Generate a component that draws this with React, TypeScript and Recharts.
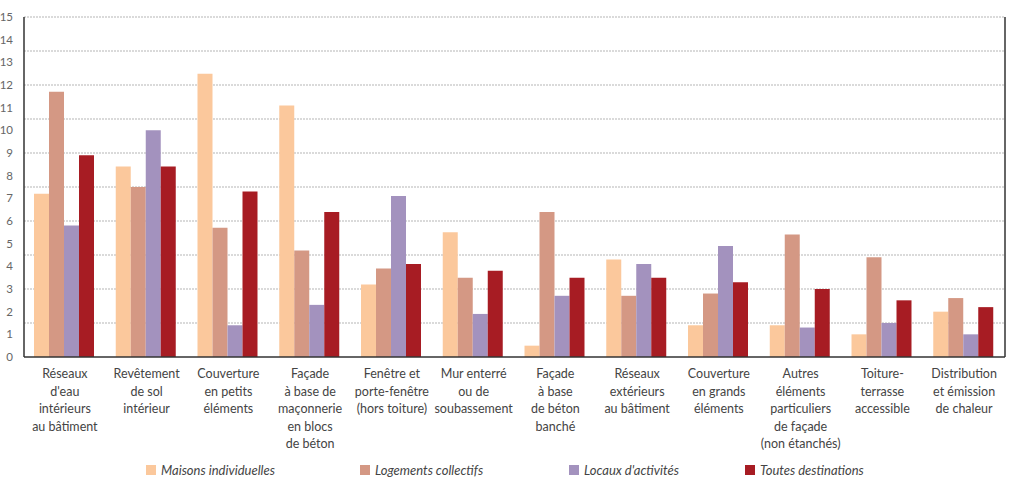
import React from 'react';
import { BarChart, Bar, XAxis, YAxis, CartesianGrid, Legend } from 'recharts';

const categories = [
  "Réseaux\nd'eau\nintérieurs\nau bâtiment",
  'Revêtement\nde sol\nintérieur',
  'Couverture\nen petits\néléments',
  'Façade\nà base de\nmaçonnerie\nen blocs\nde béton',
  'Fenêtre et\nporte-fenêtre\n(hors toiture)',
  'Mur enterré\nou de\nsoubassement',
  'Façade\nà base\nde béton\nbanché',
  'Réseaux\nextérieurs\nau bâtiment',
  'Couverture\nen grands\néléments',
  'Autres\néléments\nparticuliers\nde façade\n(non étanchés)',
  'Toiture-\nterrasse\naccessible',
  'Distribution\net émission\nde chaleur',
];

const maisons = [7.2, 8.4, 12.5, 11.1, 3.2, 5.5, 0.5, 4.3, 1.4, 1.4, 1.0, 2.0];
const logements = [11.7, 7.5, 5.7, 4.7, 3.9, 3.5, 6.4, 2.7, 2.8, 5.4, 4.4, 2.6];
const locaux = [5.8, 10.0, 1.4, 2.3, 7.1, 1.9, 2.7, 4.1, 4.9, 1.3, 1.5, 1.0];
const toutes = [8.9, 8.4, 7.3, 6.4, 4.1, 3.8, 3.5, 3.5, 3.3, 3.0, 2.5, 2.2];

const seriesNames = ['Maisons individuelles', 'Logements collectifs', "Locaux d'activités", 'Toutes destinations'];
const seriesColors = ['#FBC89C', '#D49884', '#A392BE', '#A71C23'];

const yTicks = [0, 1, 2, 3, 4, 5, 6, 7, 8, 9, 10, 11, 12, 13, 14, 15];
// dotted grid every half unit
const gridLines = [0.5, 1, 1.5, 2, 2.5, 3, 3.5, 4, 4.5, 5, 5.5, 6, 6.5, 7, 7.5, 8, 8.5, 9, 9.5, 10, 10.5, 11, 11.5, 12, 12.5, 13, 13.5, 14, 14.5, 15];

const data = categories.map((name, i) => ({
  name,
  maisons: maisons[i],
  logements: logements[i],
  locaux: locaux[i],
  toutes: toutes[i],
}));

const FONT = 'Lato, "Open Sans", sans-serif';

const CategoryTick = ({ x, y, payload }: any) => {
  const lines = String(payload.value).split('\n');
  return (
    <text x={x} y={y + 13} textAnchor="middle" fill="#444" fontSize={12.5} fontFamily={FONT}>
      {lines.map((l, i) => (
        <tspan key={i} x={x} dy={i === 0 ? 0 : 17.5}>{l}</tspan>
      ))}
    </text>
  );
};

const legendLeft = [146, 360, 569, 745];

const renderLegend = () => (
  <div style={{ position: 'relative', width: 1026, height: 20, fontFamily: FONT }}>
    {seriesNames.map((n, i) => (
      <div key={n} style={{ position: 'absolute', left: legendLeft[i], top: 0, display: 'flex', alignItems: 'center' }}>
        <span style={{ width: 10, height: 10, background: seriesColors[i], display: 'inline-block', marginRight: 5 }} />
        <span style={{ fontStyle: 'italic', fontSize: 13, color: '#444' }}>{n}</span>
      </div>
    ))}
  </div>
);

const keys = ['maisons', 'logements', 'locaux', 'toutes'];

export default function App() {
  return (
    <div style={{ position: 'absolute', left: 0, top: 0, background: '#fff' }}>
      <BarChart
        width={1026}
        height={479}
        data={data}
        margin={{ top: 17, right: 0, bottom: 0, left: 0 }}
        barGap={0}
        barCategoryGap={10}
      >
        <CartesianGrid
          horizontal
          vertical={false}
          horizontalValues={gridLines}
          yAxisId="left"
          stroke="#b5b5b5"
          strokeDasharray="2 1"
        />
        <XAxis
          dataKey="name"
          interval={0}
          height={102}
          tickLine={false}
          axisLine={{ stroke: '#333', strokeWidth: 1.5 }}
          tick={<CategoryTick />}
        />
        <YAxis
          yAxisId="left"
          domain={[0, 15]}
          ticks={yTicks}
          width={24}
          tickLine={false}
          tickMargin={5}
          axisLine={{ stroke: '#333', strokeWidth: 1.5 }}
          tick={{ fontSize: 11.5, fill: '#666', fontFamily: FONT }}
        />
        <YAxis
          yAxisId="right"
          orientation="right"
          domain={[0, 15]}
          ticks={yTicks}
          width={21}
          tickLine={false}
          tickMargin={10}
          axisLine={{ stroke: '#333', strokeWidth: 1.5 }}
          tick={{ fontSize: 11.5, fill: '#666', fontFamily: FONT, textAnchor: 'start' }}
        />
        {keys.map((k, i) => (
          <Bar key={k} yAxisId="left" dataKey={k} name={seriesNames[i]} fill={seriesColors[i]} isAnimationActive={false} />
        ))}
        <Legend content={renderLegend} verticalAlign="bottom" wrapperStyle={{ left: 0, bottom: -3, width: 1026 }} />
      </BarChart>
    </div>
  );
}
